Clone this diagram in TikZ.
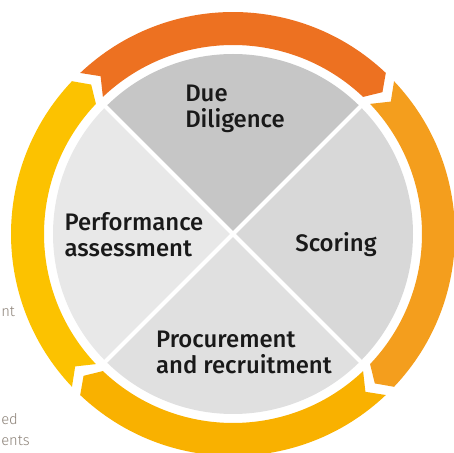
\documentclass[tikz,border=0pt]{standalone}
\usepackage{fontspec}
\setmainfont{Fira Sans}
\newfontfamily\slicefont{Fira Sans}[UprightFont=* Medium]
\newfontfamily\fragfont{Fira Sans}[UprightFont=* Light]
\usetikzlibrary{positioning}
\definecolor{ringtop}{RGB}{237,113,33}
\definecolor{ringright}{RGB}{244,158,29}
\definecolor{ringbottom}{RGB}{249,177,0}
\definecolor{ringleft}{RGB}{252,194,0}
\definecolor{slicetop}{RGB}{198,198,198}
\definecolor{sliceright}{RGB}{216,216,216}
\definecolor{slicebottom}{RGB}{224,224,224}
\definecolor{sliceleft}{RGB}{232,232,232}
\definecolor{fraggrey}{RGB}{140,130,120}

\begin{document}
\begin{tikzpicture}[x=0.025cm,y=0.025cm,
  slicetext/.style={font=\slicefont\fontsize{17}{18.5}\selectfont,align=left,text=black!90,inner sep=0pt},
  frag/.style={font=\fragfont\fontsize{10.5}{12}\selectfont,text=fraggrey,inner sep=0pt,anchor=base west},
  gap/.style={white,line width=3pt}
]
\clip (-233,-219) rectangle (221,234);

\fill[slicetop] (0,0) -- (45:180) arc[start angle=45,end angle=135,radius=180] -- cycle;
\fill[sliceleft] (0,0) -- (135:180) arc[start angle=135,end angle=225,radius=180] -- cycle;
\fill[slicebottom] (0,0) -- (225:180) arc[start angle=225,end angle=315,radius=180] -- cycle;
\fill[sliceright] (0,0) -- (-45:180) arc[start angle=-45,end angle=45,radius=180] -- cycle;
\draw[gap] (45:182) -- (225:182);
\draw[gap] (135:182) -- (-45:182);

\foreach \s/\c in {135/ringtop,45/ringright,-45/ringbottom,225/ringleft}
  \fill[\c] (\s-1.5:222) arc[start angle=\s-1.5,end angle=\s-88.5,radius=222]
    -- (\s-91.5:206) -- (\s-88.5:189)
    arc[start angle=\s-88.5,end angle=\s-1.5,radius=189]
    -- (\s-5:206) -- cycle;

\node[slicetext] (due) at (2,125) {Due\\Diligence};
\node[slicetext] (scoring) at (103,-11) {Scoring};
\node[slicetext] (perf) at (-99,-1) {Performance\\assessment};
\node[slicetext] (proc) at (11,-118) {Procurement\\and recruitment};

\node[frag] (fragnt) at (-232,-83) {nt};
\node[frag] (fraged) at (-232,-191) {ed};
\node[frag] (fragents) at (-232,-211) {ents};
\end{tikzpicture}
\end{document}
